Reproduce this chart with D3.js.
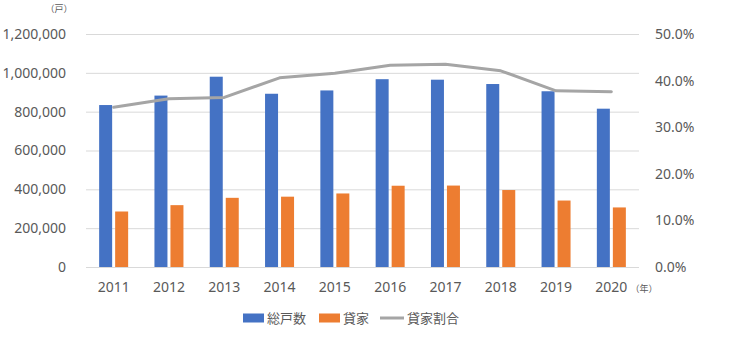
<!DOCTYPE html>
<html>
<head>
<meta charset="utf-8">
<script src="https://cdn.jsdelivr.net/npm/d3@7"></script>
<style>
  html, body { margin: 0; padding: 0; background: #fff; }
  svg { display: block; }
  text { font-family: "Noto Sans", "Noto Sans CJK JP", sans-serif; fill: #595959; }
</style>
</head>
<body>
<svg id="chart" width="730" height="340"></svg>
<script>
// 新設住宅着工戸数（総戸数・貸家）と貸家割合
const years = ["2011", "2012", "2013", "2014", "2015", "2016", "2017", "2018", "2019", "2020"];
const totalUnits = [834117, 882797, 980025, 892261, 909299, 967237, 964641, 942370, 905123, 815340];
const rentalUnits = [285832, 318521, 356263, 362191, 378718, 418543, 419397, 396404, 342289, 306753];
const rentalShare = [0.343, 0.361, 0.364, 0.406, 0.416, 0.433, 0.435, 0.421, 0.378, 0.376];
const leftTicks = [0, 200000, 400000, 600000, 800000, 1000000, 1200000];
const rightTicks = [0, 0.1, 0.2, 0.3, 0.4, 0.5];
const seriesNames = ["総戸数", "貸家", "貸家割合"];

const colors = { total: "#4472c4", rental: "#ed7d31", share: "#a5a5a5", grid: "#d9d9d9" };

const svg = d3.select("#chart");
const plotLeft = 86, plotRight = 639, plotTop = 34, plotBottom = 267;

const x = d3.scaleBand().domain(years).range([plotLeft, plotRight]).paddingInner(0).paddingOuter(0);
const yL = d3.scaleLinear().domain([0, 1200000]).range([plotBottom, plotTop]);
const yR = d3.scaleLinear().domain([0, 0.5]).range([plotBottom, plotTop]);

// gridlines
svg.append("g").selectAll("line").data(leftTicks).join("line")
  .attr("x1", plotLeft).attr("x2", plotRight)
  .attr("y1", d => yL(d) + 0.5).attr("y2", d => yL(d) + 0.5)
  .attr("stroke", colors.grid).attr("stroke-width", 1);

// left axis
const fmt = d3.format(",");
svg.append("g")
  .attr("transform", `translate(${plotLeft - 20},0)`)
  .call(d3.axisLeft(yL).tickValues(leftTicks).tickFormat(fmt).tickSize(0).tickPadding(0))
  .call(g => g.select(".domain").remove())
  .call(g => g.selectAll("text").attr("font-size", 14).attr("fill", "#595959"));

// right axis
svg.append("g")
  .attr("transform", `translate(${plotRight + 16},0)`)
  .call(d3.axisRight(yR).tickValues(rightTicks).tickFormat(d3.format(".1%")).tickSize(0).tickPadding(0))
  .call(g => g.select(".domain").remove())
  .call(g => g.selectAll("text").attr("font-size", 14).attr("fill", "#595959"));

// bottom axis
svg.append("g")
  .attr("transform", `translate(0,${plotBottom + 12})`)
  .call(d3.axisBottom(x).tickSize(0).tickPadding(0))
  .call(g => g.select(".domain").remove())
  .call(g => g.selectAll("text").attr("font-size", 14).attr("fill", "#595959").attr("dy", "0.9em"));

// unit labels
svg.append("text").attr("x", 59).attr("y", 12).attr("text-anchor", "middle")
  .attr("font-size", 9).text("（戸）");
svg.append("text").attr("x", 644).attr("y", 292).attr("text-anchor", "middle")
  .attr("font-size", 9).text("（年）");

// bars
const barW = 13, gap = 3;
const groups = svg.append("g").selectAll("g").data(years).join("g")
  .attr("transform", d => `translate(${x(d) + x.bandwidth() / 2},0)`);
groups.append("rect")
  .attr("x", -barW - gap / 2).attr("width", barW)
  .attr("y", (d, i) => yL(totalUnits[i]))
  .attr("height", (d, i) => plotBottom - yL(totalUnits[i]))
  .attr("fill", colors.total);
groups.append("rect")
  .attr("x", gap / 2).attr("width", barW)
  .attr("y", (d, i) => yL(rentalUnits[i]))
  .attr("height", (d, i) => plotBottom - yL(rentalUnits[i]))
  .attr("fill", colors.rental);

// share line
const line = d3.line()
  .x((d, i) => x(years[i]) + x.bandwidth() / 2)
  .y(d => yR(d));
svg.append("path").datum(rentalShare)
  .attr("d", line).attr("fill", "none")
  .attr("stroke", colors.share).attr("stroke-width", 3)
  .attr("stroke-linejoin", "round").attr("stroke-linecap", "round");

// legend
const lg = svg.append("g").attr("font-size", 13);
const ly = 318;
lg.append("rect").attr("x", 243).attr("y", ly - 4.5).attr("width", 21).attr("height", 9).attr("fill", colors.total);
lg.append("text").attr("x", 267).attr("y", ly).attr("dy", "0.35em").attr("font-family", "Noto Sans CJK JP").text(seriesNames[0]);
lg.append("rect").attr("x", 319).attr("y", ly - 4.5).attr("width", 21).attr("height", 9).attr("fill", colors.rental);
lg.append("text").attr("x", 343).attr("y", ly).attr("dy", "0.35em").attr("font-family", "Noto Sans CJK JP").text(seriesNames[1]);
lg.append("line").attr("x1", 380).attr("x2", 404).attr("y1", ly).attr("y2", ly)
  .attr("stroke", colors.share).attr("stroke-width", 3);
lg.append("text").attr("x", 407).attr("y", ly).attr("dy", "0.35em").attr("font-family", "Noto Sans CJK JP").text(seriesNames[2]);
</script>
</body>
</html>
